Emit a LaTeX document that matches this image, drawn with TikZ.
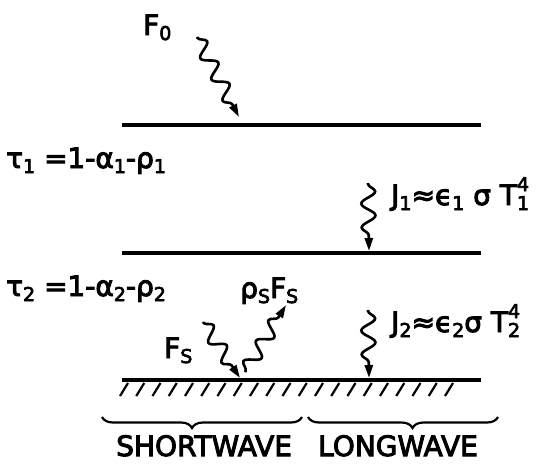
\documentclass[tikz,border=0pt]{standalone}
\usepackage{fontspec}
\setmainfont[FakeBold=3.5]{DejaVu Sans}
\usetikzlibrary{decorations.pathmorphing,decorations.pathreplacing,arrows.meta}
\newcommand{\sbs}[1]{\raisebox{-5pt}{\fontsize{19}{19}\selectfont #1}}
\newcommand{\sps}[1]{\raisebox{14pt}{\fontsize{19}{19}\selectfont #1}}
\newcommand{\subsup}[2]{\rlap{\sps{#2}}\sbs{#1}}
\tikzset{
  lbl/.style={font=\fontsize{28}{32}\selectfont, inner sep=0pt, anchor=base west},
  layer/.style={line width=3.2pt},
  hatchline/.style={line width=2.2pt},
  wave/.style={line width=2.6pt, decorate,
    decoration={snake, segment length=24pt, amplitude=7pt, pre length=1pt, post length=14pt},
    -{Triangle[length=13pt,width=8pt]}},
  bracebar/.style={line width=2.2pt, decorate}
}
\begin{document}
\begin{tikzpicture}[x=1pt,y=-1pt]
\useasboundingbox (0,0) rectangle (554,464);
% layers
\coordinate (l1a) at (122,125); \coordinate (l1b) at (481,125);
\coordinate (l2a) at (122,253); \coordinate (l2b) at (481,253);
\coordinate (l3a) at (122,380); \coordinate (l3b) at (481,380);
\draw[layer] (l1a) -- (l1b);
\draw[layer] (l2a) -- (l2b);
\draw[layer] (l3a) -- (l3b);
\foreach \i in {0,...,20} \draw[hatchline] (120+16.25*\i,396) -- ++(8,-13);
% labels
\node[lbl] (f0) at (143,35) {F\sbs{0}};
\node[lbl] (tau1) at (6,168) {τ\sbs{1} =1-α\sbs{1}-ρ\sbs{1}};
\node[lbl] (j1) at (391,205) {J\sbs{1}≈ϵ\sbs{1} σ T\subsup{1}{4}};
\node[lbl] (tau2) at (6,296) {τ\sbs{2} =1-α\sbs{2}-ρ\sbs{2}};
\node[lbl] (rsfs) at (240,298) {ρ\sbs{S}F\sbs{S}};
\node[lbl] (fs) at (164,358) {F\sbs{S}};
\node[lbl] (j2) at (391,332) {J\sbs{2}≈ϵ\sbs{2}σ T\subsup{2}{4}};
\node[lbl] (sw) at (116,456) {SHORTWAVE};
\node[lbl] (lw) at (318,456) {LONGWAVE};
% wavy arrows
\coordinate (w0s) at (197,37);  \coordinate (w0e) at (239,117);
\coordinate (w1s) at (368,183); \coordinate (w1e) at (369,251);
\coordinate (w2s) at (368,310); \coordinate (w2e) at (369,378);
\coordinate (w3s) at (203,322); \coordinate (w3e) at (240,378);
\coordinate (w4s) at (245,372); \coordinate (w4e) at (286,305);
\draw[wave] (w0s) -- (w0e);
\draw[wave] (w1s) -- (w1e);
\draw[wave] (w2s) -- (w2e);
\draw[wave] (w3s) -- (w3e);
\draw[wave] (w4s) -- (w4e);
% braces
\coordinate (b1a) at (102,417); \coordinate (b1b) at (302,417);
\coordinate (b2a) at (308,417); \coordinate (b2b) at (498,417);
\draw[bracebar, decoration={brace, mirror, amplitude=11pt, aspect=0.45}] (b1a) -- (b1b);
\draw[bracebar, decoration={brace, mirror, amplitude=11pt, aspect=0.55}] (b2a) -- (b2b);
\end{tikzpicture}
\end{document}
